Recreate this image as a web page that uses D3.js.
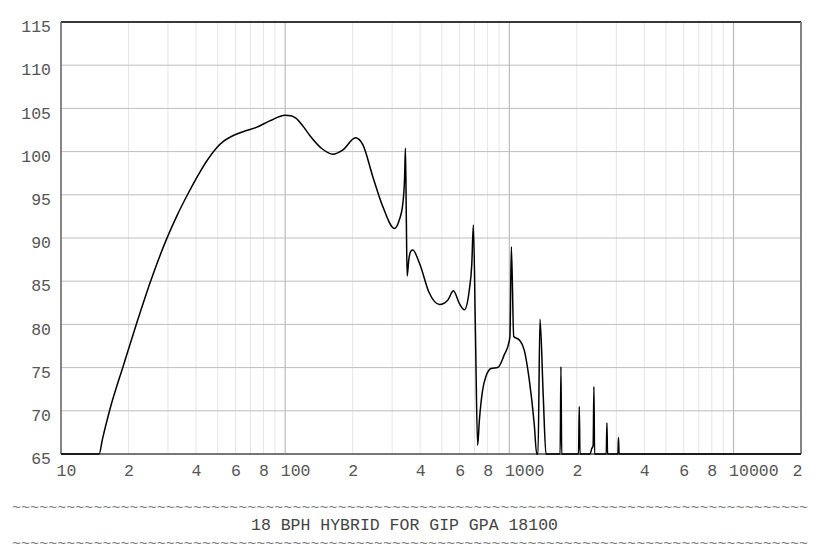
<!DOCTYPE html>
<html>
<head>
<meta charset="utf-8">
<script src="https://cdn.jsdelivr.net/npm/d3@7"></script>
<style>
  html, body { margin: 0; padding: 0; background: #fff; }
  svg { display: block; }
</style>
</head>
<body>
<svg id="chart" width="838" height="558"></svg>
<script>
// ---- data ----
const freqs = [10, 14.8, 15.3, 16.5, 19.0, 21.7, 25.1, 29.6, 33.0, 36.9, 41.6, 44.6, 49.4, 53, 56.6, 64.9, 74.4, 85.3,
  100, 106, 112, 120, 128.5, 147, 163, 181, 206, 222, 246, 273, 307, 322, 335, 341, 344, 347, 350, 356, 364, 371,
  397, 440, 488, 531, 563, 599, 630, 663, 680, 691, 706, 722, 735, 760, 787, 829, 887, 950, 993, 1006,
  1021, 1046, 1108, 1166, 1227, 1291, 1325, 1342, 1370, 1417, 1457, 1685, 1699, 1712, 2035, 2051, 2066,
  2290, 2330, 2365, 2384, 2400, 2705, 2724, 2742, 3050, 3068, 3088, 20000];
const levels = [65, 65, 66.7, 70.1, 75.28, 80.05, 85.0, 89.9, 92.65, 95.15, 97.6, 98.88, 100.43, 101.18, 101.65, 102.3, 102.8, 103.55,
  104.2, 104.15, 103.85, 102.95, 101.9, 100.27, 99.7, 100.2, 101.6, 100.8, 97.1, 93.6, 91.1, 92.0, 94.0, 97.0, 100.4, 92.5, 85.6, 87.5, 88.5, 88.6,
  87.1, 83.6, 82.3, 82.8, 83.9, 82.4, 81.7, 84.0, 87.0, 91.5, 79.0, 66.0, 68.9, 72.4, 74.0, 74.9, 75.0, 76.5, 77.8, 78.6,
  89.0, 78.6, 78.2, 77.0, 73.6, 68.5, 65, 65, 80.6, 71.6, 65, 65, 75.1, 65, 65, 70.5, 65,
  65, 65.6, 66.0, 72.8, 65, 65, 68.6, 65, 65, 66.9, 65, 65];

const xTickValues = [10, 20, 40, 60, 80, 100, 200, 400, 600, 800, 1000, 2000, 4000, 6000, 8000, 10000, 20000];
const xTickLabels = ["10", "2", "4", "6", "8", "100", "2", "4", "6", "8", "1000", "2", "4", "6", "8", "10000", "2"];
const yTickValues = [65, 70, 75, 80, 85, 90, 95, 100, 105, 110, 115];
const majorFreqs = [100, 1000, 10000];
const minorFreqs = [20, 30, 40, 50, 60, 70, 80, 90, 200, 300, 400, 500, 600, 700, 800, 900,
  2000, 3000, 4000, 5000, 6000, 7000, 8000, 9000];
const title = "18 BPH HYBRID FOR GIP GPA 18100";

(function () {
// ---- layout ----
const L = 61, R = 801, T = 22, B = 454;
const font = "'Liberation Mono', 'Courier New', monospace";
const fs = 16.5, adv = fs * 0.6;

const svg = d3.select("#chart");
const x = d3.scaleLog().domain([10, 20000]).range([L, R]);
const y = d3.scaleLinear().domain([65, 115]).range([B, T]);

// grid
const g = svg.append("g");
g.selectAll("line.minor").data(minorFreqs).join("line").attr("class", "minor")
  .attr("x1", d => x(d)).attr("x2", d => x(d)).attr("y1", T).attr("y2", B)
  .attr("stroke", "#e6e6e6").attr("stroke-width", 1);
g.selectAll("line.hgrid").data(yTickValues).join("line").attr("class", "hgrid")
  .attr("x1", L).attr("x2", R).attr("y1", d => y(d)).attr("y2", d => y(d))
  .attr("stroke", "#bdbdbd").attr("stroke-width", 1);
g.selectAll("line.major").data(majorFreqs).join("line").attr("class", "major")
  .attr("x1", d => x(d)).attr("x2", d => x(d)).attr("y1", T).attr("y2", B)
  .attr("stroke", "#bcbcbc").attr("stroke-width", 1.2);

// frame
svg.append("line").attr("x1", L).attr("x2", R).attr("y1", T).attr("y2", T)
  .attr("stroke", "#000").attr("stroke-width", 1.3);
svg.append("line").attr("x1", L).attr("x2", L).attr("y1", T).attr("y2", B)
  .attr("stroke", "#666").attr("stroke-width", 1.6);
svg.append("line").attr("x1", R).attr("x2", R).attr("y1", T).attr("y2", B)
  .attr("stroke", "#777").attr("stroke-width", 1.8);
svg.append("line").attr("x1", L).attr("x2", R).attr("y1", B).attr("y2", B)
  .attr("stroke", "#777").attr("stroke-width", 1.8);

// y axis labels
const yAxis = d3.axisLeft(y).tickValues(yTickValues).tickSize(0).tickPadding(0).tickFormat(d3.format("d"));
const ya = svg.append("g").attr("transform", `translate(${L - 10},0)`).call(yAxis);
ya.select(".domain").remove();
ya.selectAll("text").attr("font-family", font).attr("font-size", fs).attr("fill", "#555")
  .attr("dy", "0.40em").attr("y", 3);

// x axis labels
const xAxis = d3.axisBottom(x).tickValues(xTickValues).tickSize(0).tickPadding(0)
  .tickFormat((d, i) => xTickLabels[i]);
const xa = svg.append("g").attr("transform", `translate(0,${B})`).call(xAxis);
xa.select(".domain").remove();
xa.selectAll(".tick text")
  .attr("font-family", font).attr("font-size", fs).attr("fill", "#555")
  .attr("text-anchor", "start").attr("y", 22).attr("dy", 0)
  .attr("x", (d, i) => {
    const start = -adv / 2;
    const len = xTickLabels[i].length * adv;
    const over = x(d) + start + len - (R + 1);
    return over > 0 ? start - over : start;
  });

// curve
const data = freqs.map((f, i) => [f, levels[i]]);
const line = d3.line().x(d => x(d[0])).y(d => y(d[1])).curve(d3.curveMonotoneX);
svg.append("path").datum(data).attr("d", line)
  .attr("fill", "none").attr("stroke", "#000").attr("stroke-width", 1.5).attr("stroke-linejoin", "round");

// title block
const tildes = "~".repeat(88);
[512, 548].forEach(yy => {
  svg.append("text").attr("x", 12).attr("y", yy).text(tildes)
    .attr("font-family", font).attr("font-size", 15).attr("fill", "#777")
    .attr("textLength", 796).attr("lengthAdjust", "spacing");
});
svg.append("text").attr("x", 251).attr("y", 530).text(title)
  .attr("font-family", font).attr("font-size", fs).attr("fill", "#444");
})();
</script>
</body>
</html>
